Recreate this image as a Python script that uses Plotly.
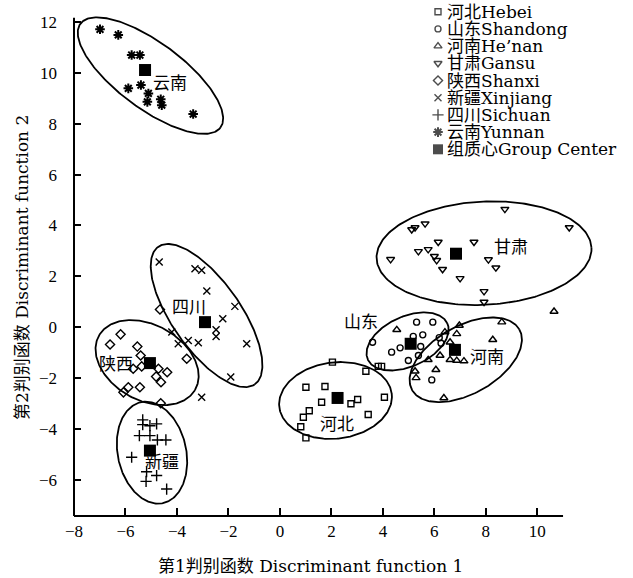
import numpy as np
import plotly.graph_objects as go

# ---- data (discriminant scores) ----
hebei_x = [2.04, 3.34, 3.82, 3.95, 1.01, 1.75, 1.62, 2.76, 3.02, 4.06, 1.14, 0.91, 3.43, 0.81, 1.01]
hebei_y = [-1.37, -1.73, -1.54, -1.54, -2.36, -2.33, -2.95, -3.01, -2.84, -2.75, -3.28, -3.54, -3.43, -3.91, -4.35]

shandong_x = [5.31, 5.94, 3.60, 4.34, 4.67, 5.18, 5.55, 5.47, 4.99, 5.38, 5.90, 6.19, 6.26]
shandong_y = [0.20, 0.20, -0.59, -0.98, -0.81, -0.36, -0.30, -0.76, -1.31, -1.11, -2.07, -0.41, -0.63]

henan_x = [4.54, 6.97, 8.62, 6.87, 6.41, 6.61, 8.27, 6.22, 5.76, 6.61, 6.87, 7.15, 5.25, 5.29, 6.06, 6.37, 10.65]
henan_y = [-0.10, 0.07, 0.20, -0.26, -0.19, -0.59, -0.49, -1.11, -1.28, -1.28, -1.31, -1.33, -1.73, -1.99, -1.67, -2.78, 0.62]

gansu_x = [8.74, 11.24, 5.12, 5.25, 5.64, 6.15, 7.54, 5.38, 5.76, 6.00, 6.09, 4.30, 6.32, 7.00, 8.10, 8.39, 7.93, 7.93]
gansu_y = [4.64, 3.92, 3.84, 3.92, 4.07, 3.35, 3.35, 2.98, 3.06, 2.79, 2.63, 2.67, 2.28, 1.92, 2.66, 2.34, 1.41, 0.99]

shanxi_x = [-6.19, -6.60, -5.54, -5.41, -5.70, -5.37, -4.72, -4.38, -4.81, -4.62, -5.89, -5.44, -6.08, -4.66, -3.62, -4.63]
shanxi_y = [-0.28, -0.68, -0.76, -1.11, -1.63, -1.54, -1.63, -1.77, -1.94, -2.16, -2.36, -2.36, -2.56, 0.70, -1.24, -2.99]

xinjiang_x = [-4.69, -3.30, -3.04, -2.84, -1.75, -2.22, -2.48, -2.48, -4.20, -3.95, -3.56, -3.17, -1.29, -1.91, -3.04]
xinjiang_y = [2.56, 2.30, 2.24, 1.42, 0.82, 0.33, -0.10, -0.36, -0.19, -0.65, -0.52, -0.61, -0.65, -1.96, -2.75]

sichuan_x = [-5.33, -5.33, -5.05, -4.79, -5.46, -5.05, -4.76, -4.43, -5.76, -5.18, -4.79, -5.20, -4.40]
sichuan_y = [-3.64, -3.83, -3.87, -3.80, -4.26, -4.26, -4.43, -4.43, -5.11, -5.68, -5.83, -6.06, -6.36]

yunnan_x = [-6.99, -6.28, -5.76, -5.44, -5.89, -5.40, -5.11, -5.15, -4.63, -4.59, -3.37]
yunnan_y = [11.71, 11.49, 10.70, 10.70, 9.39, 9.52, 9.19, 8.86, 8.96, 8.73, 8.38]

center_x = [2.24, 5.08, 6.80, 6.84, -5.05, -2.91, -5.05, -5.24]
center_y = [-2.78, -0.65, -0.89, 2.89, -1.41, 0.20, -4.85, 10.11]

# group ellipses: centre x, centre y, semi-major, semi-minor, angle (deg)
ell_cx = [2.16, 4.96, 7.22, 7.93, -5.16, -2.85, -4.97, -5.03]
ell_cy = [-2.88, -0.56, -1.28, 2.91, -1.39, 0.46, -4.93, 9.89]
ell_a = [2.20, 1.70, 2.40, 4.18, 2.15, 3.29, 2.03, 3.40]
ell_b = [1.50, 0.98, 1.33, 2.03, 1.48, 1.34, 1.33, 1.29]
ell_ang = [7, 25, 30, 3, -30, -55.4, -78, -37]

# cluster labels
label_text = ["河北", "山东", "河南", "甘肃", "陕西", "四川", "新疆", "云南"]
label_x = [2.22, 3.15, 8.04, 8.98, -6.37, -3.53, -4.58, -4.27]
label_y = [-3.75, 0.27, -1.11, 3.22, -1.39, 0.86, -5.24, 9.64]

legend_names = ["河北Hebei", "山东Shandong", "河南He’nan", "甘肃Gansu", "陕西Shanxi",
                "新疆Xinjiang", "四川Sichuan", "云南Yunnan", "组质心Group Center"]

x_title = "第1判别函数 Discriminant function 1"
y_title = "第2判别函数 Discriminant function 2"

xtick_vals = [-8, -6, -4, -2, 0, 2, 4, 6, 8, 10]
ytick_vals = [-6, -4, -2, 0, 2, 4, 6, 8, 10, 12]

# ---- styling ----
CJK = "Noto Sans CJK SC"
SERIF = "DejaVu Serif, " + CJK
symbols = ["square-open", "circle-open", "triangle-up-open", "triangle-down-open",
           "diamond-open", "x-thin-open", "cross-thin-open", "asterisk-open", "square"]
sizes = [6, 6, 7, 7, 7, 7, 8, 8, 12]
groups = [(hebei_x, hebei_y), (shandong_x, shandong_y), (henan_x, henan_y),
          (gansu_x, gansu_y), (shanxi_x, shanxi_y), (xinjiang_x, xinjiang_y),
          (sichuan_x, sichuan_y), (yunnan_x, yunnan_y), (center_x, center_y)]

Y_LO, Y_HI, Y_TOP = -7.42, 12.16, 12.784
X_LO, X_HI, X_END = -8, 12.28, 11

fig = go.Figure()

def ellipse(cx, cy, a, b, ang, n=240):
    t = np.linspace(0, 2 * np.pi, n)
    th = np.deg2rad(ang)
    x = cx + a * np.cos(t) * np.cos(th) - b * np.sin(t) * np.sin(th)
    y = cy + a * np.cos(t) * np.sin(th) + b * np.sin(t) * np.cos(th)
    return x, y

for cx, cy, a, b, ang in zip(ell_cx, ell_cy, ell_a, ell_b, ell_ang):
    ex, ey = ellipse(cx, cy, a, b, ang)
    fig.add_trace(go.Scatter(x=ex, y=ey, mode="lines", line=dict(color="black", width=1.8),
                             hoverinfo="skip", showlegend=False))

for (gx, gy), sym, sz, name in zip(groups, symbols, sizes, legend_names):
    lw = 0 if sym == "square" else (1.4 if "asterisk" not in sym else 2)
    fig.add_trace(go.Scatter(x=gx, y=gy, mode="markers", name=name, showlegend=False,
                             marker=dict(symbol=sym, size=sz, color="black",
                                         line=dict(color="black", width=lw))))

# custom legend (overlay axis in pixel units)
leg_y0, leg_dy = 11.7, 17.2
leg_rows = [leg_y0 + i * leg_dy for i in range(len(legend_names))]
leg_sizes = [6, 6, 7, 7, 7, 7, 8, 8, 10]
fig.add_trace(go.Scatter(x=[438] * len(leg_rows), y=leg_rows, mode="markers",
                         xaxis="x2", yaxis="y2", cliponaxis=False, showlegend=False,
                         hoverinfo="skip",
                         marker=dict(symbol=symbols, size=leg_sizes, color="black",
                                     line=dict(color="black", width=[1.4] * 7 + [2, 0]))))

annotations = []
for name, ry in zip(legend_names, leg_rows):
    annotations.append(dict(x=446, y=ry, xref="x2", yref="y2", text=name, showarrow=False,
                            xanchor="left", yanchor="middle", borderpad=0,
                            font=dict(family=SERIF, size=17, color="black")))
for t, lx, ly in zip(label_text, label_x, label_y):
    annotations.append(dict(x=lx, y=ly, xref="x", yref="y", text=t, showarrow=False,
                            font=dict(family=CJK, size=17, color="black")))
# axis titles
annotations.append(dict(x=0.454, y=-0.097, xref="paper", yref="paper", text=x_title,
                        showarrow=False, xanchor="center", yanchor="middle",
                        font=dict(family=SERIF, size=17, color="black")))
annotations.append(dict(x=-0.1, y=0.484, xref="paper", yref="paper", text=y_title,
                        showarrow=False, xanchor="center", yanchor="middle", textangle=-90,
                        font=dict(family=SERIF, size=17, color="black")))

fig.update_layout(
    width=633, height=578,
    margin=dict(l=74, r=37, t=2, b=62),
    paper_bgcolor="white", plot_bgcolor="white",
    showlegend=False,
    annotations=annotations,
    xaxis=dict(range=[X_LO, X_HI], tickvals=xtick_vals, ticks="inside", ticklen=8,
               tickwidth=1.5, tickcolor="black", showline=False, showgrid=False,
               zeroline=False, automargin=False, ticklabelstandoff=3,
               tickfont=dict(family="Liberation Serif", size=17, color="black")),
    yaxis=dict(range=[Y_LO, Y_TOP], tickvals=ytick_vals, ticks="inside", ticklen=7,
               tickwidth=1.5, tickcolor="black", showline=False,
               showgrid=False, zeroline=False, automargin=False,
               ticklabelstandoff=16,
               tickfont=dict(family="Liberation Serif", size=17, color="black")),
    xaxis2=dict(overlaying="x", range=[74, 596], visible=False, fixedrange=True),
    yaxis2=dict(overlaying="y", range=[516, 2], visible=False, fixedrange=True),
    shapes=[dict(type="line", xref="x", yref="paper", x0=X_LO, x1=X_END, y0=0, y1=0,
                 line=dict(color="black", width=2)),
            dict(type="line", xref="paper", yref="y", x0=0, x1=0, y0=Y_LO, y1=Y_HI,
                 line=dict(color="black", width=2))],
)

fig.write_html("out.html", config={"displayModeBar": False},
               post_script="document.body.style.margin='0px';"
                           "document.documentElement.style.overflow='hidden';")
